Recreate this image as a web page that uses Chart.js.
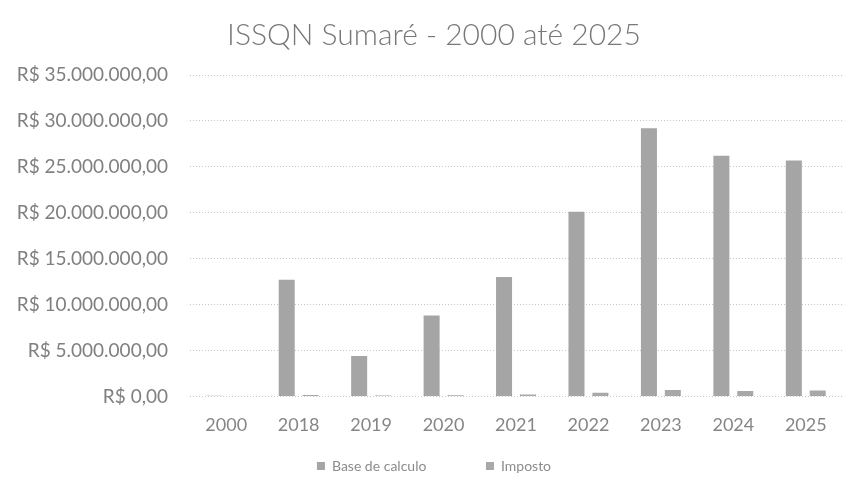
<!DOCTYPE html>
<html>
<head>
<meta charset="utf-8">
<script src="https://cdn.jsdelivr.net/npm/chart.js@4"></script>
<style>
  html, body { margin: 0; padding: 0; background: #ffffff; }
  #wrap { width: 842px; height: 477px; overflow: hidden; }
</style>
</head>
<body>
<div id="wrap"><canvas id="myChart" width="842" height="477"></canvas></div>
<script>
// anos e valores (R$)
const anos = ['2000', '2018', '2019', '2020', '2021', '2022', '2023', '2024', '2025'];
const baseCalculo = [60000, 12700000, 4400000, 8800000, 13000000, 20100000, 29200000, 26200000, 25700000];
const imposto = [40000, 150000, 110000, 120000, 200000, 400000, 700000, 600000, 650000];
const yTicks = [0, 5000000, 10000000, 15000000, 20000000, 25000000, 30000000, 35000000];

const fonte = 'Lato, "Open Sans", sans-serif';

// formato R$ 35.000.000,00
function reais(v) {
  const inteiro = Math.round(v).toString().replace(/\B(?=(\d{3})+(?!\d))/g, '.');
  return 'R$ ' + inteiro + ',00';
}

const ctx = document.getElementById('myChart').getContext('2d');
const myChart = new Chart(ctx, {
  type: 'bar',
  data: {
    labels: anos,
    datasets: [{
      label: 'Base de calculo',
      data: baseCalculo,
      backgroundColor: '#a5a5a5'
    }, {
      label: 'Imposto',
      data: imposto,
      backgroundColor: '#a8a8a8'
    }]
  },
  options: {
    responsive: false,
    animation: false,
    categoryPercentage: 0.66,
    barPercentage: 0.67,
    layout: {
      padding: { left: 18, right: -8, top: 0, bottom: -6 }
    },
    plugins: {
      title: {
        display: true,
        text: 'ISSQN Sumaré - 2000 até 2025',
        color: '#787878',
        font: { family: fonte, size: 30, weight: '300' },
        padding: { top: 17, bottom: 22 }
      },
      legend: {
        position: 'bottom',
        labels: {
          color: '#8c8c8c',
          font: { family: fonte, size: 14 },
          boxWidth: 8,
          boxHeight: 8,
          padding: 13,
          // espaço maior entre os dois itens
          generateLabels: (chart) => {
            const itens = Chart.defaults.plugins.legend.labels.generateLabels(chart);
            itens[0].text = itens[0].text + '             ';
            return itens;
          }
        }
      },
      tooltip: { enabled: false }
    },
    scales: {
      x: {
        grid: { display: false },
        border: { display: false },
        ticks: {
          color: '#868686',
          font: { family: fonte, size: 18 },
          padding: 10
        }
      },
      y: {
        min: 0,
        max: 35000000,
        afterBuildTicks: (axis) => {
          axis.ticks = yTicks.map(v => ({ value: v }));
        },
        afterFit: (axis) => {
          axis.width = 172;
        },
        grid: {
          color: '#c8c8c8',
          drawTicks: false,
          lineWidth: 1
        },
        border: { display: false, dash: [1, 2] },
        ticks: {
          color: '#808080',
          font: { family: fonte, size: 19 },
          padding: 22,
          callback: (v) => reais(v)
        }
      }
    }
  }
});
</script>
</body>
</html>
